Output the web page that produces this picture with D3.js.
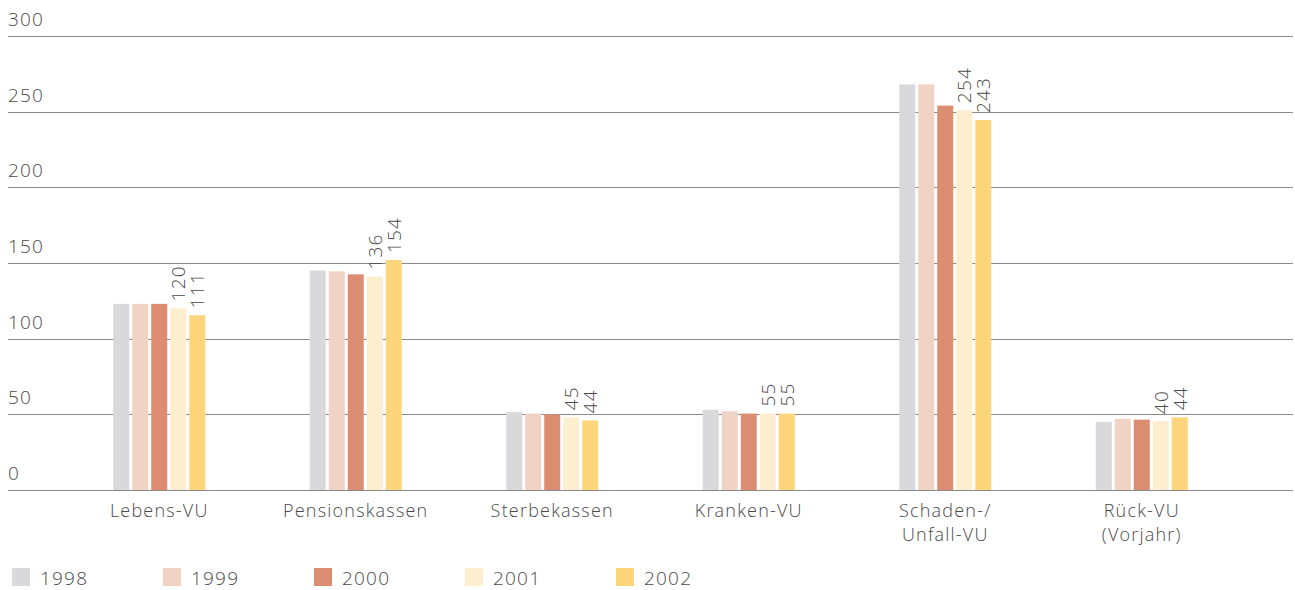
<!DOCTYPE html>
<html>
<head>
<meta charset="utf-8">
<script src="https://cdn.jsdelivr.net/npm/d3@7/dist/d3.min.js"></script>
<style>
  body { margin: 0; background: #fff; }
  text { font-family: "Open Sans", "DejaVu Sans", sans-serif; font-weight: 300; fill: #4a4a4a; letter-spacing: 1.2px; }
</style>
</head>
<body>
<div id="chart"></div>
<script>
// categories (label lines) and years
var categories = ["Lebens-VU", "Pensionskassen", "Sterbekassen", "Kranken-VU", "Schaden-/\nUnfall-VU", "Rück-VU\n(Vorjahr)"];
var years = ["1998", "1999", "2000", "2001", "2002"];
var colors = ["#d9d9db", "#f0d3c4", "#db8c71", "#fdeecf", "#fdd67c"];

// bar values per year (one entry per category)
var v1998 = [123, 145, 51.5, 53, 268, 45];
var v1999 = [123, 144.5, 50.5, 52, 268, 47];
var v2000 = [123, 142.5, 50, 50.5, 254, 46.5];
var v2001 = [120, 141, 48, 50.5, 251, 45.5];
var v2002 = [115.5, 152, 46, 50.5, 244.5, 48];
// printed value labels for 2001 and 2002
var lab2001 = ["120", "136", "45", "55", "254", "40"];
var lab2002 = ["111", "154", "44", "55", "243", "44"];

var yTicks = [0, 50, 100, 150, 200, 250, 300];

var series = [v1998, v1999, v2000, v2001, v2002];
var labels = { "2001": lab2001, "2002": lab2002 };

var w = 1295, h = 590;
var svg = d3.select("#chart").append("svg")
    .attr("width", w)
    .attr("height", h);

var y = d3.scaleLinear().domain([0, 300]).range([490, 36]);
var x = d3.scaleBand().domain(categories).range([61, 1240]).padding(0);
var xi = d3.scaleBand().domain(years).range([0, 92]).paddingInner(3 / 19).paddingOuter(0);

// grid lines + tick labels
var grid = svg.append("g");
grid.selectAll("line")
    .data(yTicks)
    .enter()
    .append("line")
    .attr("x1", 8)
    .attr("x2", 1293)
    .attr("y1", function(d) { return Math.round(y(d)) + 0.5; })
    .attr("y2", function(d) { return Math.round(y(d)) + 0.5; })
    .attr("stroke", "#8a8a8a")
    .attr("stroke-width", 1);
grid.selectAll("text")
    .data(yTicks)
    .enter()
    .append("text")
    .attr("x", 8)
    .attr("y", function(d) { return y(d) - 10; })
    .attr("font-size", 19)
    .text(function(d) { return d; });

// bars
var groups = svg.append("g").selectAll("g")
    .data(categories)
    .enter()
    .append("g")
    .attr("transform", function(d) { return "translate(" + (x(d) + x.bandwidth() / 2 - 46) + ",0)"; });

groups.selectAll("rect")
    .data(function(d, i) { return years.map(function(yr, j) { return { year: yr, value: series[j][i], color: colors[j] }; }); })
    .enter()
    .append("rect")
    .attr("x", function(d) { return xi(d.year); })
    .attr("width", xi.bandwidth())
    .attr("y", function(d) { return y(d.value); })
    .attr("height", function(d) { return y(0) - y(d.value); })
    .attr("fill", function(d) { return d.color; });

// rotated value labels
groups.selectAll("text.val")
    .data(function(d, i) {
        return ["2001", "2002"].map(function(yr) {
            return { year: yr, value: series[years.indexOf(yr)][i], label: labels[yr][i] };
        });
    })
    .enter()
    .append("text")
    .attr("class", "val")
    .attr("font-size", 19)
    .attr("transform", function(d) {
        return "translate(" + (xi(d.year) + xi.bandwidth() - 1) + "," + (y(d.value) - 7) + ") rotate(-90)";
    })
    .text(function(d) { return d.label; });

// category labels
var cat = svg.append("g").selectAll("text")
    .data(categories)
    .enter()
    .append("text")
    .attr("x", function(d) { return x(d) + x.bandwidth() / 2; })
    .attr("y", 517)
    .attr("text-anchor", "middle")
    .attr("font-size", 18);
cat.selectAll("tspan")
    .data(function(d) { return d.split("\n"); })
    .enter()
    .append("tspan")
    .attr("x", function() { var p = this.parentNode; return d3.select(p).attr("x"); })
    .attr("dy", function(d, i) { return i ? 24 : 0; })
    .text(function(d) { return d; });

// legend
var leg = svg.append("g").selectAll("g")
    .data(years)
    .enter()
    .append("g")
    .attr("transform", function(d, i) { return "translate(" + (12 + i * 151) + ",568)"; });
leg.append("rect")
    .attr("width", 18)
    .attr("height", 18)
    .attr("fill", function(d, i) { return colors[i]; });
leg.append("text")
    .attr("x", 28)
    .attr("y", 17)
    .attr("font-size", 19)
    .text(function(d) { return d; });
</script>
</body>
</html>
